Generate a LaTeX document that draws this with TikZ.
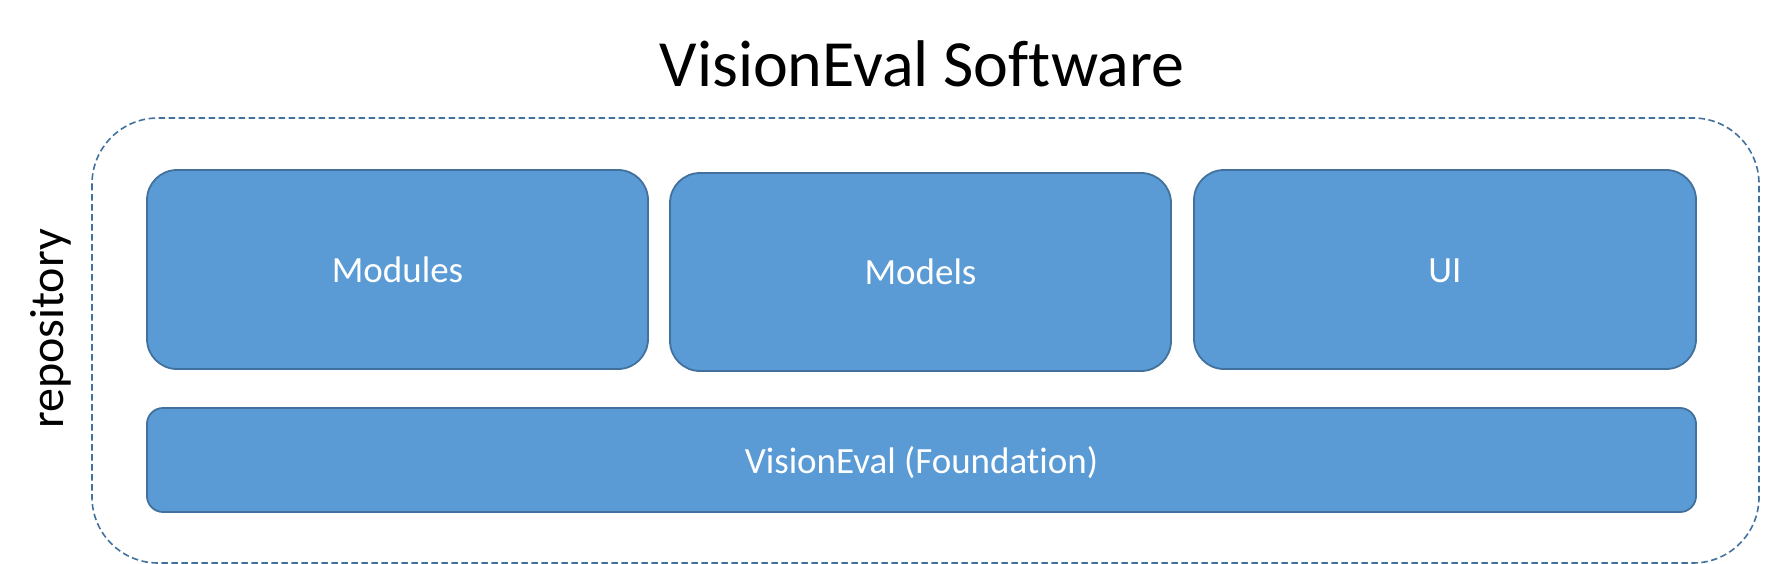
\documentclass[tikz,border=0pt]{standalone}
\usepackage{fontspec}
\setmainfont{Carlito}[Ligatures={NoCommon}]
\definecolor{boxfill}{HTML}{5B9BD5}
\definecolor{boxline}{HTML}{41719C}
\tikzset{
  layerbox/.style={fill=boxfill, draw=boxline, line width=1.8pt, rounded corners=30pt},
  basebox/.style={fill=boxfill, draw=boxline, line width=1.8pt, rounded corners=16pt},
  outerbox/.style={draw=boxline, line width=1.6pt, dash pattern=on 6.5pt off 3.5pt, rounded corners=66pt},
  boxlabel/.style={text=white, font=\fontsize{37}{44}\selectfont, anchor=base, inner sep=0pt},
}
\begin{document}
\begin{tikzpicture}[x=1pt,y=-1pt]
\useasboundingbox (0,0) rectangle (1784,564);
\draw[outerbox] (92,118) rectangle (1759,563);
\node[font=\fontsize{66}{78}\selectfont, anchor=base, inner sep=0pt] (title) at (922,87) {VisionEval Software};
\node[font=\fontsize{48}{56}\selectfont, anchor=base, rotate=90, inner sep=0pt] (repo) at (63,329) {repository};
\draw[layerbox] (147,170) rectangle (648,369);
\draw[layerbox] (670,173) rectangle (1171,371);
\draw[layerbox] (1194,170) rectangle (1696,369);
\draw[basebox] (147,408) rectangle (1696,512);
\node[boxlabel] (modules) at (397.5,282) {Modules};
\node[boxlabel] (models) at (920.5,284) {Models};
\node[boxlabel] (ui) at (1445,282) {UI};
\node[boxlabel] (foundation) at (921.5,473) {VisionEval (Foundation)};
\end{tikzpicture}
\end{document}
